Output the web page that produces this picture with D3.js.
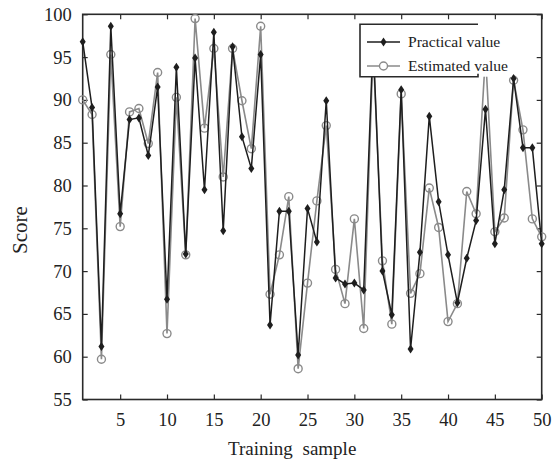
<!DOCTYPE html>
<html>
<head>
<meta charset="utf-8">
<script src="https://cdn.jsdelivr.net/npm/d3@7"></script>
<style>
  html, body { margin: 0; padding: 0; background: #fff; }
  svg { display: block; font-family: "Liberation Serif", "Times New Roman", serif; }
</style>
</head>
<body>
<svg id="chart" width="552" height="463"></svg>
<script>
// Training samples 1..50
const samples = d3.range(1, 51);

// Measured (practical) scores per sample
const practical = [96.8, 89.1, 61.2, 98.6, 76.7, 87.7, 87.9, 83.5, 91.5, 66.7,
                   93.8, 72.0, 94.9, 79.5, 97.9, 74.7, 96.2, 85.7, 82.0, 95.3,
                   63.7, 77.0, 77.0, 60.2, 77.3, 73.4, 89.9, 69.2, 68.5, 68.6,
                   67.8, 97.0, 70.0, 64.9, 91.2, 60.9, 72.2, 88.1, 78.1, 71.9,
                   66.3, 71.5, 75.9, 88.9, 73.2, 79.5, 92.5, 84.4, 84.4, 73.2];

// Model-estimated scores per sample
const estimated = [90.0, 88.3, 59.7, 95.3, 75.2, 88.6, 89.0, 84.9, 93.2, 62.7,
                   90.3, 71.9, 99.5, 86.7, 96.0, 81.0, 96.0, 89.9, 84.3, 98.6,
                   67.3, 71.9, 78.7, 58.6, 68.6, 78.2, 87.0, 70.2, 66.2, 76.1,
                   63.3, 96.0, 71.2, 63.8, 90.7, 67.4, 69.7, 79.7, 75.1, 64.1,
                   66.2, 79.3, 76.7, 95.3, 74.6, 76.2, 92.3, 86.5, 76.1, 74.0];

const xTicks = [5, 10, 15, 20, 25, 30, 35, 40, 45, 50];
const yTicks = [55, 60, 65, 70, 75, 80, 85, 90, 95, 100];
const seriesNames = ["Practical value", "Estimated value"];

const svg = d3.select("#chart");
const plotLeft = 82.7, plotRight = 541.7, plotTop = 14.3, plotBottom = 399.5;
const axisColor = "#2a2a2a";

const x = d3.scaleLinear().domain([1, 50]).range([plotLeft, plotRight]);
const y = d3.scaleLinear().domain([55, 100]).range([plotBottom, plotTop]);

// Axes: ticks point inward on all four sides
function styleAxis(g) {
  g.select(".domain").remove();
  g.selectAll(".tick line").attr("stroke", axisColor).attr("stroke-width", 1.2);
  g.selectAll(".tick text").attr("fill", "#222").style("font-size", "18.5px")
    .style("font-family", "'Liberation Serif', 'Times New Roman', serif");
}

svg.append("g").attr("transform", `translate(0,${plotBottom})`)
  .call(d3.axisBottom(x).tickValues(xTicks).tickSizeInner(-5).tickSizeOuter(0).tickPadding(13))
  .call(styleAxis);
svg.append("g").attr("transform", `translate(0,${plotTop})`)
  .call(d3.axisTop(x).tickValues(xTicks).tickSizeInner(-5).tickSizeOuter(0).tickFormat(""))
  .call(styleAxis);
svg.append("g").attr("transform", `translate(${plotLeft},0)`)
  .call(d3.axisLeft(y).tickValues(yTicks).tickSizeInner(-5).tickSizeOuter(0).tickPadding(11))
  .call(styleAxis);
svg.append("g").attr("transform", `translate(${plotRight},0)`)
  .call(d3.axisRight(y).tickValues(yTicks).tickSizeInner(-5).tickSizeOuter(0).tickFormat(""))
  .call(styleAxis);

// Plot frame
svg.append("rect")
  .attr("x", plotLeft).attr("y", plotTop)
  .attr("width", plotRight - plotLeft).attr("height", plotBottom - plotTop)
  .attr("fill", "none").attr("stroke", axisColor).attr("stroke-width", 1.6);

const line = d3.line().x((d, i) => x(samples[i])).y(d => y(d));

const practicalColor = "#1e1e1e";
const estimatedColor = "#8a8a8a";

// Estimated series: gray line with open circles
svg.append("path").datum(estimated)
  .attr("d", line).attr("fill", "none")
  .attr("stroke", estimatedColor).attr("stroke-width", 1.6);
svg.append("g").selectAll("circle").data(estimated).join("circle")
  .attr("cx", (d, i) => x(samples[i])).attr("cy", d => y(d))
  .attr("r", 4).attr("fill", "none")
  .attr("stroke", estimatedColor).attr("stroke-width", 1.4);

// Practical series: dark line with small diamond markers
const diamond = "M0,-4.5L3,0L0,4.5L-3,0Z";
svg.append("path").datum(practical)
  .attr("d", line).attr("fill", "none")
  .attr("stroke", practicalColor).attr("stroke-width", 1.5);
svg.append("g").selectAll("path").data(practical).join("path")
  .attr("transform", (d, i) => `translate(${x(samples[i])},${y(d)})`)
  .attr("d", diamond).attr("fill", practicalColor);

// Legend: white backing spans the text, the border stops short of it
const lg = svg.append("g");
const lx0 = 360, lx1 = 478, lxBg = 512, ly0 = 24.3, ly1 = 76.7;
lg.append("rect").attr("x", lx0).attr("y", ly0)
  .attr("width", lxBg - lx0).attr("height", ly1 - ly0).attr("fill", "#fff");
lg.append("path")
  .attr("d", `M${lx1},${ly0}H${lx0}V${ly1}H${lx1}V${ly1 - 3}`)
  .attr("fill", "none").attr("stroke", axisColor).attr("stroke-width", 1.6);

const rows = [
  { name: seriesNames[0], yy: 42, color: practicalColor, marker: "diamond" },
  { name: seriesNames[1], yy: 66, color: estimatedColor, marker: "circle" }
];
rows.forEach(r => {
  lg.append("line").attr("x1", 367).attr("x2", 400).attr("y1", r.yy).attr("y2", r.yy)
    .attr("stroke", r.color).attr("stroke-width", 1.6);
  if (r.marker === "diamond") {
    lg.append("path").attr("transform", `translate(383.5,${r.yy})`)
      .attr("d", diamond).attr("fill", r.color);
  } else {
    lg.append("circle").attr("cx", 383.5).attr("cy", r.yy).attr("r", 4)
      .attr("fill", "#fff").attr("stroke", r.color).attr("stroke-width", 1.4);
  }
  lg.append("text").attr("x", 408).attr("y", r.yy + 5)
    .attr("fill", "#222").style("font-size", "15.6px")
    .text(r.name);
});

// Axis titles
svg.append("text").attr("x", 228).attr("y", 455)
  .attr("fill", "#222").style("font-size", "19px").style("word-spacing", "5px")
  .text("Training sample");
svg.append("text")
  .attr("transform", "translate(27,230) rotate(-90)")
  .attr("text-anchor", "middle")
  .attr("fill", "#222").style("font-size", "21px")
  .text("Score");
</script>
</body>
</html>
